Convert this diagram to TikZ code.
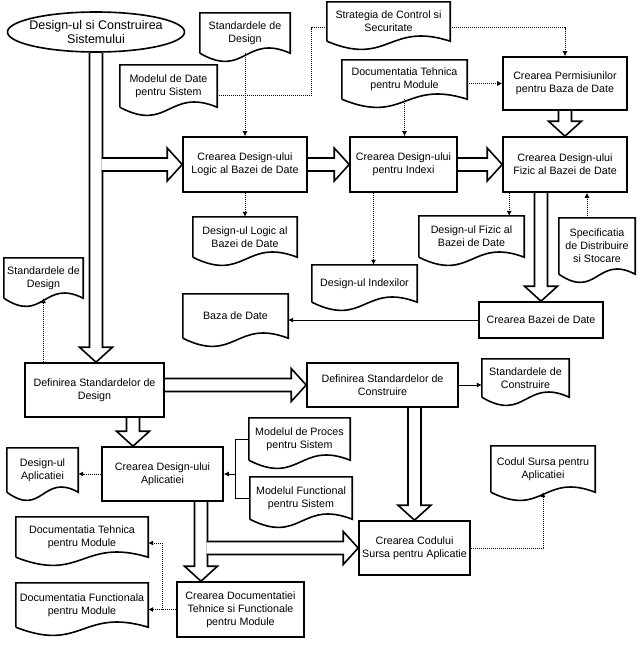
\documentclass[tikz,border=0pt]{standalone}
\usepackage{fontspec}
\setmainfont{Liberation Sans}
\usetikzlibrary{shapes.geometric,calc,arrows.meta,backgrounds}

\newcommand{\shaftw}{6.5}
\newcommand{\headw}{16.5}
\newcommand{\headl}{15}
% block arrow pointing down
\newcommand{\blockdown}[2]{%
  \filldraw[blockarr] ($(#1)+(-\shaftw,0)$) -- ($(#2)+(-\shaftw,-\headl)$)
    -- ($(#2)+(-\headw,-\headl)$) -- (#2) -- ($(#2)+(\headw,-\headl)$)
    -- ($(#2)+(\shaftw,-\headl)$) -- ($(#1)+(\shaftw,0)$);}
% block arrow pointing right
\newcommand{\blockright}[2]{%
  \filldraw[blockarr] ($(#1)+(0,-\shaftw)$) -- ($(#2)+(-\headl,-\shaftw)$)
    -- ($(#2)+(-\headl,-\headw)$) -- (#2) -- ($(#2)+(-\headl,\headw)$)
    -- ($(#2)+(-\headl,\shaftw)$) -- ($(#1)+(0,\shaftw)$);}
% document outline with wavy bottom
\newcommand{\docwave}[1]{%
  \draw[docline] (#1.south west) -- (#1.north west) -- (#1.north east) -- (#1.south east)
    .. controls ($(#1.south)+(0,-20)$) and ($(#1.south)+(0,26)$) .. (#1.south west);}

\tikzset{
  txt/.style={font=\fontsize{10.7}{13}\selectfont, align=center},
  proc/.style={txt, draw, fill=white, line width=1.6pt, inner sep=1pt},
  docu/.style={txt, inner sep=1pt},
  docline/.style={line width=1.6pt},
  blockarr/.style={fill=white, draw, line width=1.6pt, line join=miter},
  dotline/.style={line width=0.8pt, dash pattern=on 1pt off 1pt},
  dotarr/.style={dotline, -{Latex[length=5pt,width=5pt]}},
  solline/.style={line width=0.7pt},
  solarr/.style={solline, -{Latex[length=5pt,width=5pt]}},
}

\begin{document}
\begin{tikzpicture}[x=1pt,y=-1pt]
    \useasboundingbox (0,0) rectangle (642,645);

    % start
    \node[ellipse, draw, fill=white, line width=1.6pt, align=center,
      font=\fontsize{12.5}{14}\selectfont, inner xsep=-7pt, inner ysep=0pt,
      minimum width=177pt, minimum height=40pt] (sys) at (96,32)
      {Design-ul si Construirea\\Sistemului};

    % process boxes
    \node[proc, minimum width=124pt, minimum height=55pt] (logic) at (245,164.5) {Crearea Design-ului\\Logic al Bazei de Date};
    \node[proc, minimum width=107pt, minimum height=55pt] (index) at (403.5,164.5) {Crearea Design-ului\\pentru Indexi};
    \node[proc, minimum width=124pt, minimum height=55pt] (fizic) at (565,164.5) {Crearea Design-ului\\Fizic al Bazei de Date};
    \node[proc, minimum width=124pt, minimum height=53pt] (perm) at (565,83.5) {Crearea Permisiunilor\\pentru Baza de Date};
    \node[proc, minimum width=124pt, minimum height=36pt] (creBD) at (541,320) {Crearea Bazei de Date};
    \node[proc, minimum width=139pt, minimum height=54pt] (defDes) at (94.5,390) {Definirea Standardelor de\\Design};
    \node[proc, minimum width=151pt, minimum height=44pt] (defCon) at (382.5,385) {Definirea Standardelor de\\Construire};
    \node[proc, minimum width=121pt, minimum height=54pt] (aplic) at (162.5,474) {Crearea Design-ului\\Aplicatiei};
    \node[proc, minimum width=111pt, minimum height=54pt] (codul) at (414.5,548) {Crearea Codului\\Sursa pentru Aplicatie};
    \node[proc, minimum width=127pt, minimum height=55pt] (docum) at (240.5,609.5) {Crearea Documentatiei\\Tehnice si Functionale\\pentru Module};

    % documents
    \node[docu, minimum width=90pt, minimum height=40pt] (stdDes) at (245,33) {Standardele de\\Design};
    \node[docu, minimum width=97pt, minimum height=42pt] (modDate) at (168.5,86) {Modelul de Date\\pentru Sistem};
    \node[docu, minimum width=123pt, minimum height=39pt] (strat) at (388.5,21.5) {Strategia de Control si\\Securitate};
    \node[docu, minimum width=125pt, minimum height=39pt] (docTeh) at (404.5,79.5) {Documentatia Tehnica\\pentru Module};
    \node[docu, minimum width=104pt, minimum height=40pt] (desLog) at (245,237) {Design-ul Logic al\\Bazei de Date};
    \node[docu, minimum width=105pt, minimum height=37pt] (desIdx) at (364.5,283.5) {Design-ul Indexilor};
    \node[docu, minimum width=105pt, minimum height=41pt] (desFiz) at (471.5,236.5) {Design-ul Fizic al\\Bazei de Date};
    \node[docu, minimum width=76pt, minimum height=56pt] (specif) at (597,246) {Specificatia\\de Distribuire\\si Stocare};
    \node[docu, minimum width=105pt, minimum height=44pt] (bazaD) at (235.5,316) {Baza de Date};
    \node[docu, minimum width=79pt, minimum height=40pt] (stdDes2) at (43.5,278) {Standardele de\\Design};
    \node[docu, minimum width=87pt, minimum height=38pt] (stdCon) at (525.5,378) {Standardele de\\Construire};
    \node[docu, minimum width=71pt, minimum height=44pt] (desApl) at (42.5,470) {Design-ul\\Aplicatiei};
    \node[docu, minimum width=101pt, minimum height=42pt] (modProc) at (299.5,439) {Modelul de Proces\\pentru Sistem};
    \node[docu, minimum width=102pt, minimum height=42pt] (modFunc) at (301,498) {Modelul Functional\\pentru Sistem};
    \node[docu, minimum width=104pt, minimum height=46pt] (codSrs) at (543,469) {Codul Sursa pentru\\Aplicatiei};
    \node[docu, minimum width=132pt, minimum height=40pt] (docTeh2) at (82,537) {Documentatia Tehnica\\pentru Module};
    \node[docu, minimum width=132pt, minimum height=44pt] (docFun) at (82,605) {Documentatia Functionala\\pentru Module};

    \foreach \d in {stdDes,modDate,strat,docTeh,desLog,desIdx,desFiz,specif,bazaD,
                    stdDes2,stdCon,desApl,modProc,modFunc,codSrs,docTeh2,docFun}
        \docwave{\d};

    % thin connectors
    \draw[dotarr] (stdDes.south) -- (logic.north);
    \draw[dotline] ($(modDate.east)+(0,9)$) -| ($(strat.west)+(-15,6)$) -- ($(strat.west)+(0,6)$);
    \draw[dotarr] ($(strat.east)+(0,6)$) -| (perm.north);
    \draw[dotarr] (docTeh.east |- perm.west) -- (perm.west);
    \draw[dotarr] (docTeh.south) -- (docTeh.south |- index.north);
    \draw[dotarr] (logic.south) -- (desLog.north);
    \draw[dotarr] ($(index.south)+(-30,0)$) coordinate (ix) -- (ix |- desIdx.north);
    \draw[dotarr] ($(fizic.south west)+(7,0)$) coordinate (fx) -- (fx |- desFiz.north);
    \draw[dotarr] ($(specif.north)+(-10,0)$) coordinate (sx) -- (sx |- fizic.south);
    \draw[solarr] (creBD.west) -- (creBD.west -| bazaD.east);
    \draw[dotarr] (stdDes2.south |- defDes.north) -- (stdDes2.south);
    \draw[solarr] (defCon.east) -- (defCon.east -| stdCon.west);
    \draw[dotarr] (aplic.west) -- (aplic.west -| desApl.east);
    \draw[solline] (modProc.west) -- ++(-13,0) coordinate (jn) |- (modFunc.west);
    \draw[solarr] (jn |- aplic.east) -- (aplic.east);
    \draw[dotarr] (codul.east) -| (codSrs.south);
    \draw[dotarr] (docum.west) -- (docum.west -| docFun.east);
    \draw[dotarr] ($(docum.west)+(-14,0)$) coordinate (dj) |- ($(docTeh2.east)+(0,6)$);

    % block arrows
    \begin{scope}[on background layer]
        \coordinate (dX) at (133,0);
        \coordinate (aX) at (201,0);
        \blockdown{sys.south}{sys.south |- defDes.north}
        \coordinate (sBr) at ($(sys.south |- logic.west)+(\shaftw-0.8,0)$);
        \blockright{sBr}{logic.west}
        \blockright{logic.east}{index.west}
        \blockright{index.east}{fizic.west}
        \blockdown{perm.south}{fizic.north}
        \blockdown{creBD.north |- fizic.south}{creBD.north}
        \blockright{defDes.east |- defCon.west}{defCon.west}
        \blockdown{codul.north |- defCon.south}{codul.north}
        \blockdown{dX |- defDes.south}{dX |- aplic.north}
        \blockdown{aX |- aplic.south}{aX |- docum.north}
        \coordinate (aBr) at ($(aX |- codul.west)+(\shaftw-0.8,0)$);
        \blockright{aBr}{codul.west}
    \end{scope}
\end{tikzpicture}
\end{document}
